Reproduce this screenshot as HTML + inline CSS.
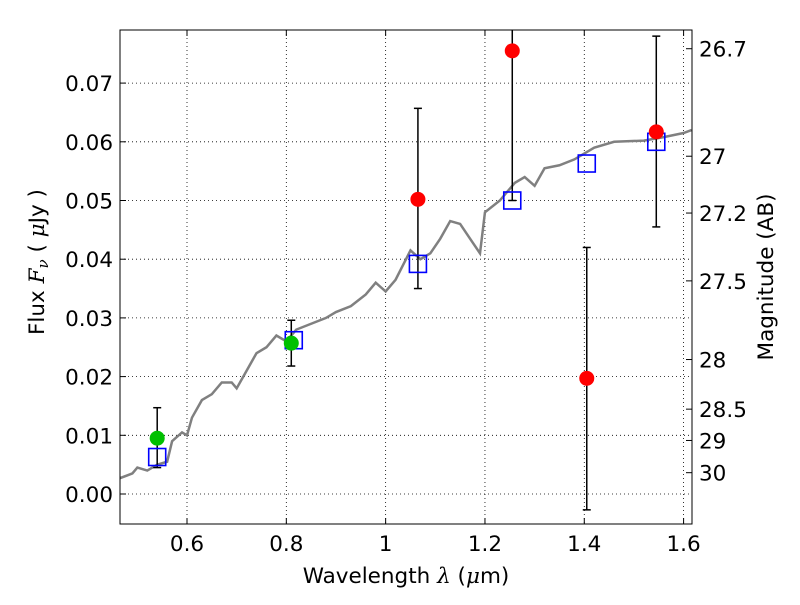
<!DOCTYPE html>
<html><head><meta charset="utf-8"><style>
body{margin:0;background:#fff;}
svg{font-family:"DejaVu Sans","Liberation Sans",sans-serif;}
</style></head><body>
<svg id="chart" width="800" height="600" xmlns="http://www.w3.org/2000/svg"></svg>
<script>
const xTicks=[0.6,0.8,1.0,1.2,1.4,1.6];
const xTickLabels=["0.6","0.8","1","1.2","1.4","1.6"];
const yTicks=[0,0.01,0.02,0.03,0.04,0.05,0.06,0.07];
const yTickLabels=["0.00","0.01","0.02","0.03","0.04","0.05","0.06","0.07"];
const magTicks=[26.7,27,27.2,27.5,28,28.5,29,30];
const magLabels=["26.7","27","27.2","27.5","28","28.5","29","30"];
const specX=[0.465,0.49,0.5,0.52,0.54,0.56,0.57,0.59,0.6,0.61,0.63,0.65,0.67,0.69,0.7,0.72,0.74,0.76,0.78,0.8,0.82,0.85,0.88,0.9,0.93,0.96,0.98,1.0,1.02,1.05,1.07,1.09,1.11,1.13,1.15,1.17,1.19,1.2,1.23,1.26,1.28,1.3,1.32,1.35,1.38,1.42,1.46,1.52,1.56,1.6,1.616];
const specY=[0.0027,0.0035,0.0045,0.004,0.005,0.0055,0.009,0.0105,0.010,0.013,0.016,0.017,0.019,0.019,0.018,0.021,0.024,0.025,0.027,0.026,0.028,0.029,0.030,0.031,0.032,0.034,0.036,0.0345,0.0365,0.0415,0.040,0.041,0.0435,0.0465,0.046,0.0435,0.041,0.048,0.050,0.053,0.054,0.0525,0.0555,0.056,0.057,0.059,0.060,0.0602,0.0608,0.0615,0.062];
const redX=[1.065,1.255,1.405,1.545];
const redY=[0.0502,0.0755,0.0197,0.0617];
const redLo=[0.035,0.050,-0.0027,0.0455];
const redHi=[0.0657,0.085,0.042,0.078];
const greenX=[0.54,0.81];
const greenY=[0.0095,0.0257];
const greenLo=[0.0045,0.0218];
const greenHi=[0.0147,0.0296];
const blueX=[0.54,0.815,1.065,1.255,1.405,1.545];
const blueY=[0.0063,0.0262,0.0392,0.0500,0.0563,0.0600];

const L=120,R=692,T=30,B=524;
const xmin=0.6-67/496.6, xmax=0.6+505/496.6;
const sx=v=>L+(v-xmin)/(xmax-xmin)*(R-L);
const sy=v=>494-v*5870;
const NS="http://www.w3.org/2000/svg";
const svg=document.getElementById('chart');
function mk(t,a,p){const e=document.createElementNS(NS,t);for(const k in a)e.setAttribute(k,a[k]);(p||svg).appendChild(e);return e;}
const defs=mk('defs',{});const cp=mk('clipPath',{id:'c'},defs);mk('rect',{x:L,y:T,width:R-L,height:B-T},cp);
const g=mk('g',{'clip-path':'url(#c)'});

xTicks.forEach((v,i)=>{
 const l=mk('line',{x1:sx(v),x2:sx(v),y1:T,y2:B,stroke:'#000','stroke-dasharray':'1,3','stroke-width':0.8},g);
 
 mk('line',{x1:sx(v),x2:sx(v),y1:B,y2:B-6,stroke:'#000'});mk('line',{x1:sx(v),x2:sx(v),y1:T,y2:T+6,stroke:'#000'});
 const t=mk('text',{x:sx(v),y:B+27,'text-anchor':'middle','font-size':21.5});t.textContent=xTickLabels[i];
 
});
yTicks.forEach((v,i)=>{
 const l=mk('line',{x1:L,x2:R,y1:sy(v),y2:sy(v),stroke:'#000','stroke-dasharray':'1,3','stroke-width':0.8},g);
 
 mk('line',{x1:L,x2:L+6,y1:sy(v),y2:sy(v),stroke:'#000'});
 const t=mk('text',{x:L-7,y:sy(v)+8,'text-anchor':'end','font-size':21.5});t.textContent=yTickLabels[i];
 
});
magTicks.forEach((m,i)=>{
 const y=sy(Math.pow(10,(23.9-m)/2.5));
 mk('line',{x1:R,x2:R-6,y1:y,y2:y,stroke:'#000'});
 const t=mk('text',{x:R+7,y:y+8,'font-size':21.5});t.textContent=magLabels[i];
 
});
const sp=mk('polyline',{points:specX.map((x,i)=>sx(x)+','+sy(specY[i])).join(' '),fill:'none',stroke:'#808080','stroke-width':2.5},g);

function err(xs,lo,hi){xs.forEach((x,i)=>{
 mk('line',{x1:sx(x),x2:sx(x),y1:sy(lo[i]),y2:sy(hi[i]),stroke:'#000','stroke-width':1.5},g);
 mk('line',{x1:sx(x)-4,x2:sx(x)+4,y1:sy(lo[i]),y2:sy(lo[i]),stroke:'#000','stroke-width':1.5},g);
 mk('line',{x1:sx(x)-4,x2:sx(x)+4,y1:sy(hi[i]),y2:sy(hi[i]),stroke:'#000','stroke-width':1.5},g);
});}
err(redX,redLo,redHi);err(greenX,greenLo,greenHi);
blueX.forEach((x,i)=>{const r=mk('rect',{x:sx(x)-8.5,y:sy(blueY[i])-8.5,width:17,height:17,fill:'none',stroke:'#0000ff','stroke-width':1.6},g);
 });
greenX.forEach((x,i)=>{const c=mk('circle',{cx:sx(x),cy:sy(greenY[i]),r:7.5,fill:'#00c000'},g);
 });
redX.forEach((x,i)=>{const c=mk('circle',{cx:sx(x),cy:sy(redY[i]),r:7.5,fill:'#ff0000'},g);
 });
const fr=mk('rect',{x:L,y:T,width:R-L,height:B-T,fill:'none',stroke:'#000','stroke-width':1});

let t=mk('text',{x:406,y:583,'text-anchor':'middle','font-size':21.5,'xml:space':'preserve'});t.innerHTML='Wavelength  <tspan font-style="italic" font-family="DejaVu Serif">λ</tspan> (<tspan font-style="italic" font-family="DejaVu Serif">μ</tspan>m)';

t=mk('text',{x:0,y:0,'text-anchor':'middle','font-size':21.5,transform:'translate(44,262) rotate(-90)','xml:space':'preserve'});t.innerHTML='Flux  <tspan font-style="italic" font-family="DejaVu Serif">F</tspan><tspan font-style="italic" font-size="15" dy="4" font-family="DejaVu Serif">ν</tspan><tspan dy="-4">  (  </tspan><tspan font-style="italic" font-family="DejaVu Serif">μ</tspan>Jy )';

t=mk('text',{x:0,y:0,'text-anchor':'middle','font-size':21.5,transform:'translate(773,277) rotate(-90)'});t.textContent='Magnitude (AB)';

</script>
</body></html>
